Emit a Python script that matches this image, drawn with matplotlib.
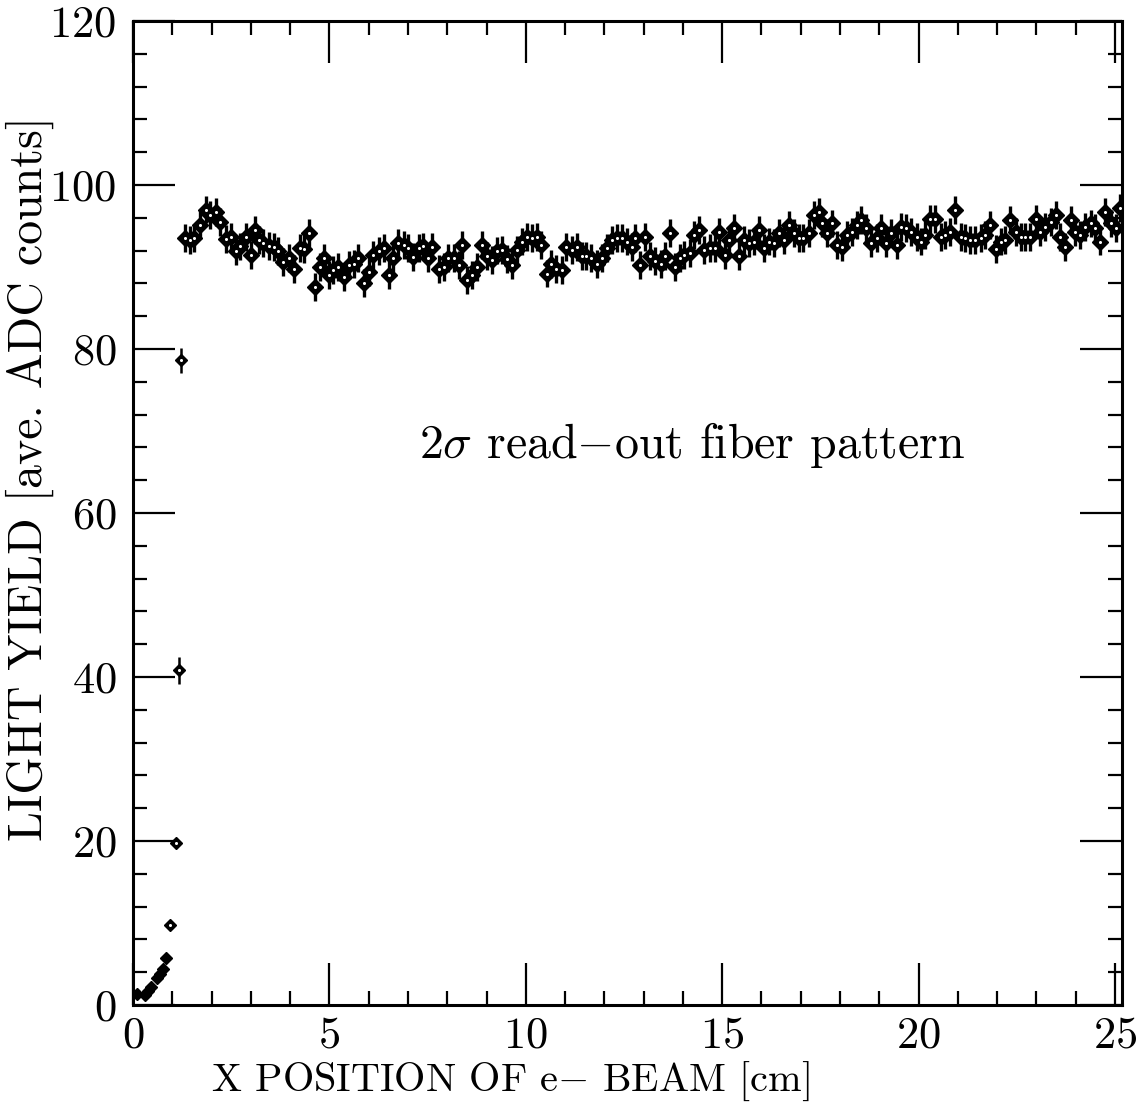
import matplotlib
matplotlib.use("Agg")
import matplotlib.pyplot as plt
from matplotlib.ticker import MultipleLocator

plt.rcParams['font.family'] = ['cmr10', 'DejaVu Serif']
plt.rcParams['mathtext.fontset'] = 'cm'
plt.rcParams['axes.unicode_minus'] = False
plt.rcParams['axes.formatter.use_mathtext'] = True

# ---- data ----
x_rise = [0.10, 0.30, 0.38, 0.46, 0.60, 0.68, 0.76, 0.84, 0.94, 1.09, 1.16, 1.23]
y_rise = [1.3, 1.2, 1.7, 2.2, 3.3, 3.8, 4.4, 5.7, 9.7, 19.8, 40.8, 78.6]
err_rise = [0.2, 0.2, 0.2, 0.2, 0.3, 0.3, 0.3, 0.4, 0.5, 0.6, 1.6, 1.5]

x_plat = [1.32, 1.44, 1.56, 1.71, 1.86, 1.96, 2.10, 2.22, 2.36, 2.50,
          2.62, 2.73, 2.87, 3.00, 3.11, 3.22, 3.32, 3.45, 3.58, 3.70,
          3.83, 3.96, 4.10, 4.24, 4.36, 4.49, 4.64, 4.76, 4.87, 5.00,
          5.10, 5.23, 5.36, 5.49, 5.63, 5.74, 5.87, 6.00, 6.12, 6.25,
          6.38, 6.51, 6.62, 6.74, 6.89, 7.01, 7.14, 7.27, 7.38, 7.52,
          7.61, 7.78, 7.91, 8.03, 8.16, 8.29, 8.37, 8.50, 8.63, 8.76,
          8.88, 9.01, 9.14, 9.27, 9.39, 9.52, 9.65, 9.77, 9.90, 10.03,
          10.16, 10.28, 10.40, 10.54, 10.64, 10.78, 10.92, 11.03, 11.18, 11.30,
          11.43, 11.54, 11.67, 11.81, 11.94, 12.07, 12.20, 12.32, 12.45, 12.58,
          12.70, 12.79, 12.92, 13.04, 13.17, 13.30, 13.43, 13.55, 13.66, 13.81,
          13.92, 14.04, 14.17, 14.28, 14.41, 14.53, 14.68, 14.81, 14.91, 15.06,
          15.17, 15.29, 15.42, 15.55, 15.68, 15.80, 15.93, 16.06, 16.19, 16.31,
          16.44, 16.57, 16.70, 16.82, 16.95, 17.07, 17.20, 17.33, 17.46, 17.54,
          17.67, 17.80, 17.92, 18.05, 18.18, 18.31, 18.43, 18.54, 18.67, 18.80,
          18.93, 19.05, 19.18, 19.30, 19.45, 19.56, 19.69, 19.82, 19.95, 20.07,
          20.17, 20.28, 20.43, 20.56, 20.68, 20.81, 20.94, 21.07, 21.19, 21.32,
          21.45, 21.58, 21.70, 21.83, 21.96, 22.09, 22.21, 22.34, 22.47, 22.60,
          22.72, 22.85, 22.98, 23.10, 23.23, 23.36, 23.49, 23.61, 23.74, 23.87,
          23.99, 24.12, 24.25, 24.38, 24.50, 24.63, 24.75, 24.89, 25.02, 25.14]
y_plat = [93.5, 93.3, 93.5, 95.1, 97.0, 96.3, 96.7, 95.5, 93.4, 93.7,
          91.9, 92.5, 93.7, 91.5, 94.5, 93.3, 92.9, 92.6, 92.4, 91.9,
          90.6, 91.1, 89.8, 92.3, 92.2, 94.1, 87.6, 90.0, 91.1, 89.0,
          89.6, 90.0, 88.8, 90.2, 90.4, 91.1, 88.0, 89.4, 91.5, 91.9,
          92.3, 89.0, 91.1, 92.9, 92.7, 92.3, 91.2, 92.3, 92.5, 91.1,
          92.4, 89.8, 90.0, 91.1, 91.1, 90.2, 92.7, 88.4, 89.0, 90.0,
          92.7, 91.3, 90.9, 92.0, 92.1, 91.0, 90.2, 92.1, 93.1, 93.7,
          93.5, 93.7, 92.7, 89.2, 90.4, 89.8, 89.6, 92.4, 92.1, 92.4,
          91.3, 91.3, 91.1, 90.4, 91.1, 92.3, 93.3, 93.5, 93.5, 93.1,
          92.4, 93.5, 90.2, 93.7, 91.3, 90.7, 90.4, 91.3, 94.1, 90.0,
          91.1, 91.5, 91.7, 93.9, 94.5, 92.1, 92.3, 92.3, 94.3, 91.5,
          93.3, 94.7, 91.3, 93.3, 92.9, 93.1, 94.5, 92.3, 93.1, 92.9,
          94.1, 93.3, 95.1, 94.1, 93.5, 93.5, 94.1, 96.3, 96.7, 95.3,
          94.1, 95.3, 92.7, 92.4, 93.9, 94.3, 95.1, 95.7, 94.7, 92.9,
          93.5, 94.7, 92.9, 94.1, 92.7, 94.9, 94.7, 94.3, 93.7, 93.1,
          93.9, 95.9, 95.9, 93.7, 93.9, 94.3, 96.9, 93.7, 93.5, 93.3,
          93.3, 93.5, 93.9, 95.1, 92.2, 93.1, 93.3, 95.7, 94.3, 93.7,
          93.7, 93.7, 95.9, 94.3, 94.9, 95.5, 96.3, 93.7, 92.4, 95.7,
          94.3, 93.9, 94.9, 95.3, 94.7, 93.1, 96.7, 95.3, 94.7, 97.2]
err_plat = 1.7

x_ticks = [0, 5, 10, 15, 20, 25]
y_ticks = [0, 20, 40, 60, 80, 100, 120]

# ---- figure ----
fig = plt.figure(figsize=(11.37, 11.02), dpi=100)
ax = fig.add_axes([0.117, 0.088, 0.8698, 0.893])

ax.errorbar(x_plat, y_plat, yerr=err_plat, fmt='none', ecolor='black',
            elinewidth=2.4, capsize=0, zorder=2)
ax.plot(x_plat, y_plat, linestyle='none', marker='D', markersize=8.5,
        markerfacecolor='black', markeredgecolor='black', markeredgewidth=1.0,
        zorder=3)
ax.plot(x_plat, y_plat, linestyle='none', marker='o', markersize=2.2,
        markerfacecolor='white', markeredgewidth=0, zorder=4)

ax.errorbar(x_rise, y_rise, yerr=err_rise, fmt='none', ecolor='black',
            elinewidth=1.8, capsize=0, zorder=2)
ax.plot(x_rise, y_rise, linestyle='none', marker='D', markersize=6.5,
        markerfacecolor='black', markeredgecolor='black', markeredgewidth=1.0,
        zorder=3)
ax.plot(x_rise[-4:], y_rise[-4:], linestyle='none', marker='o', markersize=2.2,
        markerfacecolor='white', markeredgewidth=0, zorder=4)

ax.set_xlim(0, 25.18)
ax.set_ylim(0, 120)
ax.set_xticks(x_ticks)
ax.set_yticks(y_ticks)
ax.xaxis.set_minor_locator(MultipleLocator(1))
ax.yaxis.set_minor_locator(MultipleLocator(4))

ax.tick_params(which='both', direction='in', top=True, right=True,
               colors='black')
ax.tick_params(which='major', length=30, width=1.6, labelsize=32, pad=8)
ax.tick_params(which='minor', length=10, width=1.6)
ax.tick_params(axis='y', which='major', pad=12)
for s in ax.spines.values():
    s.set_linewidth(2.2)

ax.set_xlabel("X POSITION OF e$-$ BEAM [cm]", fontsize=29)
ax.xaxis.set_label_coords(0.382, -0.056)
ax.set_ylabel("LIGHT YIELD [ave. ADC counts]", fontsize=34.5)
ax.yaxis.set_label_coords(-0.080, 0.535)

ax.text(14.24, 68.3, r"$2\sigma$ read$-$out fiber pattern", fontsize=34.5,
        ha='center', va='center')

fig.savefig("out.png", dpi=100)
